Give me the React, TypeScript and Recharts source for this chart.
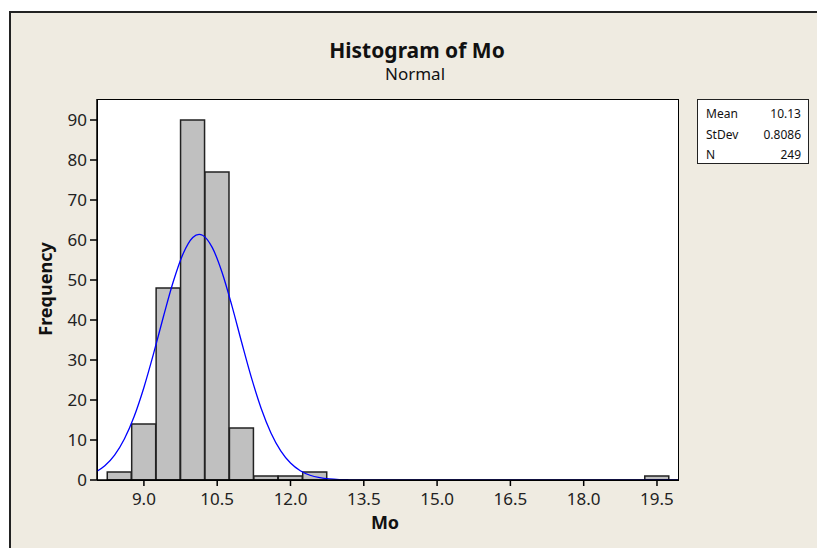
import React from 'react';
import { ComposedChart, Bar, Line, XAxis, YAxis } from 'recharts';

const binCenters = [8.5, 9.0, 9.5, 10.0, 10.5, 11.0, 11.5, 12.0, 12.5, 13.0, 13.5, 14.0, 14.5, 15.0, 15.5, 16.0, 16.5, 17.0, 17.5, 18.0, 18.5, 19.0, 19.5];
const binCounts = [2, 14, 48, 90, 77, 13, 1, 1, 2, 0, 0, 0, 0, 0, 0, 0, 0, 0, 0, 0, 0, 0, 1];

const curveX = [8.04, 8.2, 8.4, 8.6, 8.8, 9.0, 9.2, 9.4, 9.6, 9.8, 10.0, 10.13, 10.2, 10.4, 10.6, 10.8, 11.0, 11.2, 11.4, 11.6, 11.8, 12.0, 12.2, 12.4, 12.6, 12.8, 13.0, 13.2, 13.4, 13.6, 14.0, 19.93];
const curveY = [2.18, 3.56, 6.23, 10.25, 15.88, 23.14, 31.7, 40.87, 49.55, 56.52, 60.64, 61.43, 61.2, 58.09, 51.88, 43.58, 34.43, 25.59, 17.89, 11.77, 7.28, 4.24, 2.32, 1.19, 0.58, 0.26, 0.11, 0.05, 0.02, 0.01, 0, 0];

const xTicks = [9.0, 10.5, 12.0, 13.5, 15.0, 16.5, 18.0, 19.5];
const yTicks = [0, 10, 20, 30, 40, 50, 60, 70, 80, 90];

const statLabels = ['Mean', 'StDev', 'N'];
const statValues = ['10.13', '0.8086', '249'];

const titleText = 'Histogram of Mo';
const subtitleText = 'Normal';
const xLabel = 'Mo';
const yLabel = 'Frequency';

const binData = binCenters.map((x, i) => ({ x, count: binCounts[i] }));
const curveData = curveX.map((x, i) => ({ x, y: curveY[i] }));

const X_DOMAIN: [number, number] = [8.04, 19.93];
const FONT = '"Noto Sans", "DejaVu Sans", sans-serif';
const BG = '#EFEBE1';

export default function App() {
  return (
    <div style={{ position: 'fixed', left: 0, top: 0, width: 817, height: 548, background: '#fff', overflow: 'hidden', fontFamily: FONT }}>
      <div style={{ position: 'absolute', left: 9, top: 11, width: 808, height: 537, background: BG, borderLeft: '2px solid #222', borderTop: '2px solid #222', boxSizing: 'border-box' }} />
      <div style={{ position: 'absolute', left: 97, top: 99, width: 582, height: 382, background: '#fff', border: '1px solid #000', boxSizing: 'border-box' }} />
      <div style={{ position: 'absolute', left: 0, top: 0 }}>
        <ComposedChart width={817} height={548} data={binData} margin={{ top: 99, right: 139, bottom: 38, left: 47 }} barCategoryGap={0}>
          <XAxis
            xAxisId="main"
            dataKey="x"
            type="number"
            domain={X_DOMAIN}
            allowDataOverflow
            ticks={xTicks}
            tickFormatter={(v: number) => v.toFixed(1)}
            height={30}
            tickSize={6}
            tickMargin={7}
            stroke="#000"
            strokeWidth={1.5}
            tick={{ fill: '#222', fontSize: 17, fontFamily: FONT }}
          />
          <XAxis xAxisId="bin" dataKey="x" type="number" domain={X_DOMAIN} allowDataOverflow hide height={0} />
          <YAxis
            type="number"
            domain={[0, 95.25]}
            allowDataOverflow
            ticks={yTicks}
            width={50}
            tickSize={7}
            tickMargin={3}
            stroke="#000"
            strokeWidth={1.5}
            tick={{ fill: '#222', fontSize: 17, fontFamily: FONT }}
          />
          <Bar xAxisId="bin" dataKey="count" fill="#C0C0C0" stroke="#222" strokeWidth={1.5} isAnimationActive={false} />
          <Line xAxisId="main" data={curveData} dataKey="y" type="monotone" stroke="#0000FF" strokeWidth={1.3} dot={false} activeDot={false} isAnimationActive={false} />
        </ComposedChart>
      </div>
      <div style={{ position: 'absolute', left: 217, width: 400, top: 37, textAlign: 'center', fontSize: 21, fontWeight: 'bold', color: '#111', lineHeight: '26px' }}>{titleText}</div>
      <div style={{ position: 'absolute', left: 215, width: 400, top: 63, textAlign: 'center', fontSize: 17, color: '#111', lineHeight: '22px' }}>{subtitleText}</div>
      <div style={{ position: 'absolute', left: 285, width: 200, top: 510, textAlign: 'center', fontSize: 18, fontWeight: 'bold', color: '#111', lineHeight: '24px' }}>{xLabel}</div>
      <div style={{ position: 'absolute', left: 45, top: 289, width: 0, height: 0 }}>
        <div style={{ position: 'absolute', left: -100, top: -12, width: 200, textAlign: 'center', fontSize: 18, fontWeight: 'bold', color: '#111', lineHeight: '24px', transform: 'rotate(-90deg)' }}>{yLabel}</div>
      </div>
      <div style={{ position: 'absolute', left: 697, top: 99, width: 112, height: 65, background: '#fff', border: '1.5px solid #222', boxSizing: 'border-box', fontSize: 12, color: '#111' }}>
        {statLabels.map((lab, i) => (
          <div key={lab} style={{ position: 'absolute', left: 8, right: 7, top: 4 + i * 20.5, height: 20, lineHeight: '20px', display: 'flex', justifyContent: 'space-between' }}>
            <span>{lab}</span>
            <span>{statValues[i]}</span>
          </div>
        ))}
      </div>
    </div>
  );
}
